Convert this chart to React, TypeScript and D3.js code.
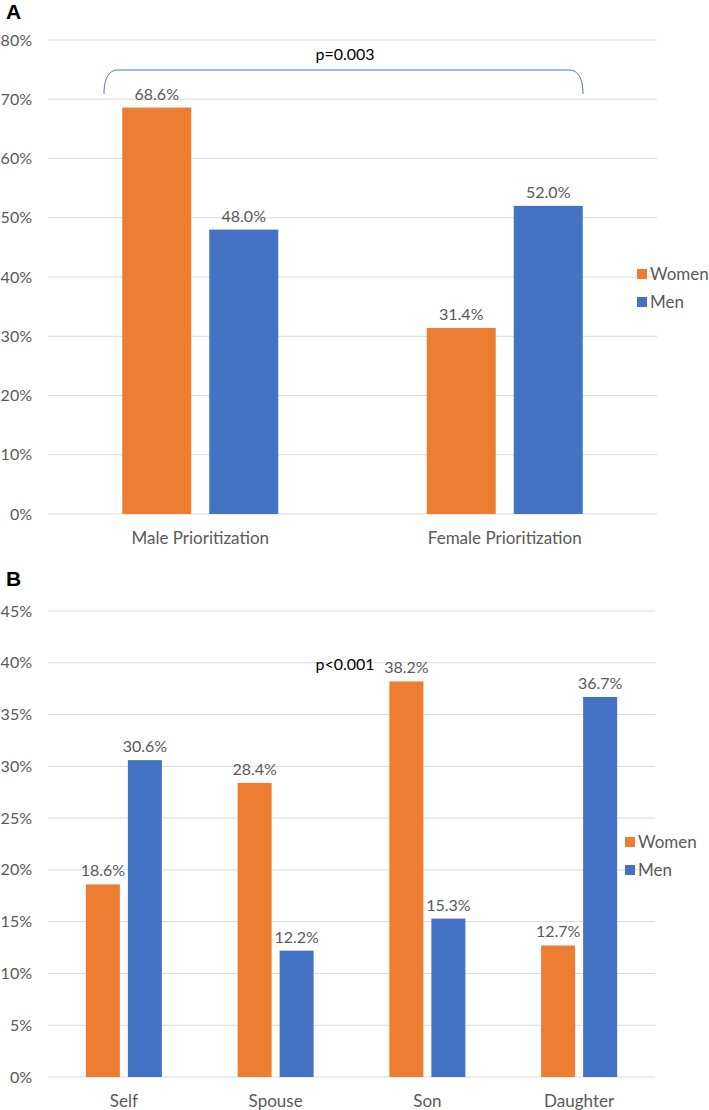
import React, { useEffect } from "react";
import * as d3 from "d3";

const seriesNames = ["Women", "Men"];
const colors = ["#ED7D31", "#4472C4"];

const catsA = ["Male Prioritization", "Female Prioritization"];
const womenA = [68.6, 31.4];
const menA = [48.0, 52.0];
const ticksA = [0, 10, 20, 30, 40, 50, 60, 70, 80];

const catsB = ["Self", "Spouse", "Son", "Daughter"];
const womenB = [18.6, 28.4, 38.2, 12.7];
const menB = [30.6, 12.2, 15.3, 36.7];
const ticksB = [0, 5, 10, 15, 20, 25, 30, 35, 40, 45];

const FONT = "Lato, 'Open Sans', sans-serif";
const TXT = "#595959";

function Panel({ cats, women, men, ticks, yTop, yBottom, xLeft, xRight, barW, gap, pText, pY, legendX, legendY, bracket }: any) {
  const y = d3.scaleLinear().domain([0, ticks[ticks.length - 1]]).range([yBottom, yTop]);
  const x = d3.scaleBand().domain(cats).range([xLeft, xRight]);
  const cluster = barW * 2 + gap;
  const x1 = d3.scaleBand().domain(seriesNames).range([0, cluster]).paddingInner(gap / (barW + gap));
  const data = [women, men];
  return (
    <g fontFamily={FONT}>
      {ticks.map((t: number) => (
        <g key={t}>
          <line x1={xLeft} x2={xRight} y1={y(t)} y2={y(t)} stroke="#D9D9D9" strokeWidth={1} />
          <text x={32} y={y(t)} dy="0.35em" textAnchor="end" fontSize={16} fill={TXT}>{t}%</text>
        </g>
      ))}
      {cats.map((c: string, i: number) => {
        const cx = (x(c) as number) + x.bandwidth() / 2;
        return (
          <g key={c}>
            {seriesNames.map((s, k) => {
              const v = data[k][i];
              const bx = cx - cluster / 2 + (x1(s) as number);
              return (
                <g key={s}>
                  <rect x={bx} y={y(v)} width={x1.bandwidth()} height={yBottom - y(v)} fill={colors[k]} />
                  <text x={bx + x1.bandwidth() / 2} y={y(v) - 8} textAnchor="middle" fontSize={16} fill={TXT}>{v.toFixed(1)}%</text>
                </g>
              );
            })}
            <text x={cx} y={yBottom + 30} textAnchor="middle" fontSize={17} fill={TXT}>{c}</text>
          </g>
        );
      })}
      <text x={345} y={pY} textAnchor="middle" fontSize={16} fill="#000">{pText}</text>
      {bracket}
      {seriesNames.map((s, k) => (
        <g key={s}>
          <rect x={legendX} y={legendY + k * 28 - 5} width={10} height={10} fill={colors[k]} />
          <text x={legendX + 13} y={legendY + k * 28} dy="0.35em" fontSize={17} fill={TXT}>{s}</text>
        </g>
      ))}
    </g>
  );
}

export default function App() {
  useEffect(() => {
    document.body.style.margin = "0";
  }, []);
  const bracketPath = "M104,94 C104,80 108,70 118,70 L569,70 C579,70 583,80 583,94";
  return (
    <svg width={709} height={1110} style={{ display: "block", background: "#fff" }}>
      <text x={6} y={19} fontFamily="Arial, sans-serif" fontWeight="bold" fontSize={21} fill="#000">A</text>
      <Panel
        cats={catsA} women={womenA} men={menA} ticks={ticksA}
        yTop={40} yBottom={514} xLeft={48} xRight={657} barW={69} gap={18}
        pText="p=0.003" pY={60} legendX={637} legendY={274}
        bracket={<path d={bracketPath} fill="none" stroke="#4472C4" strokeWidth={1} />}
      />
      <text x={6} y={586} fontFamily="Arial, sans-serif" fontWeight="bold" fontSize={21} fill="#000">B</text>
      <Panel
        cats={catsB} women={womenB} men={menB} ticks={ticksB}
        yTop={611} yBottom={1077} xLeft={48} xRight={655} barW={34} gap={8}
        pText="p<0.001" pY={670} legendX={625} legendY={842}
        bracket={null}
      />
    </svg>
  );
}
